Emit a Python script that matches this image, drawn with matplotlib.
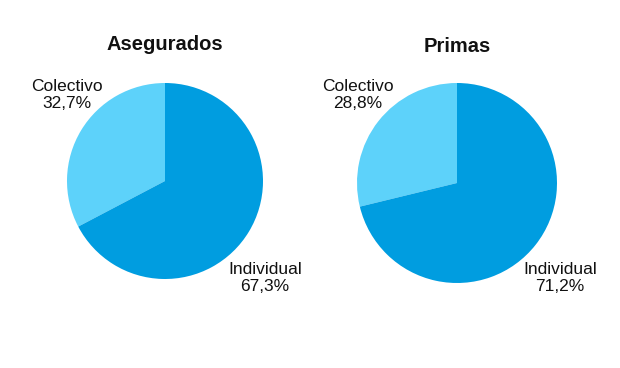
import matplotlib
matplotlib.use("Agg")
import matplotlib.pyplot as plt

plt.rcParams['font.family'] = ['Liberation Sans', 'DejaVu Sans']

titles = ['Asegurados', 'Primas']
categories = ['Colectivo', 'Individual']
asegurados = [32.7, 67.3]
primas = [28.8, 71.2]
colors = ['#5dd2fa', '#009de0']

W, H = 620, 368
fig = plt.figure(figsize=(W / 100, H / 100), dpi=100)

# pixel centre and radius of each pie, label spots in pie units
pies = [
    dict(cx=165, cy=181, r=98, vals=asegurados, title_y=1.39,
         lab=[(-1.0, 0.88), (1.02, -0.99)]),
    dict(cx=457, cy=183, r=100, vals=primas, title_y=1.36,
         lab=[(-0.99, 0.88), (1.03, -0.95)]),
]

for title, p in zip(titles, pies):
    r = p['r']
    ax = fig.add_axes([(p['cx'] - r) / W, (H - p['cy'] - r) / H, 2 * r / W, 2 * r / H])
    ax.pie(p['vals'], colors=colors, startangle=90, counterclock=True,
           radius=1, wedgeprops=dict(linewidth=0))
    ax.set_xlim(-1, 1)
    ax.set_ylim(-1, 1)
    ax.set_aspect('equal')
    ax.axis('off')
    ax.text(0, p['title_y'], title, ha='center', va='center', fontsize=14.5,
            fontweight='bold', color='#111111', clip_on=False)
    for cat, v, (lx, ly) in zip(categories, p['vals'], p['lab']):
        ax.text(lx, ly, f"{cat}\n{v:.1f}%".replace('.', ','), ha='center', va='center',
                fontsize=12.5, color='#111111', linespacing=1.15, clip_on=False)

fig.savefig('out.png', dpi=100, facecolor='white')
